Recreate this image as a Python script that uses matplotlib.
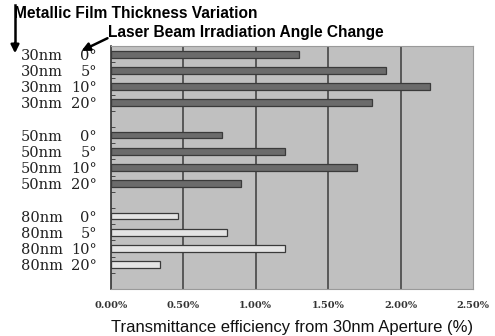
import matplotlib
matplotlib.use("Agg")
import matplotlib.pyplot as plt
from matplotlib.transforms import blended_transform_factory

# data
thickness = ["30nm", "50nm", "80nm"]
angles = ["0°", "5°", "10°", "20°"]
eff_30nm = [1.30, 1.90, 2.20, 1.80]
eff_50nm = [0.77, 1.20, 1.70, 0.90]
eff_80nm = [0.46, 0.80, 1.20, 0.34]
xticks = [0.0, 0.5, 1.0, 1.5, 2.0, 2.5]
xtick_labels = ["0.00%", "0.50%", "1.00%", "1.50%", "2.00%", "2.50%"]

series = [eff_30nm, eff_50nm, eff_80nm]
bar_colors = ["#6b6b6b", "#6b6b6b", "#e4e4e4"]

fig = plt.figure(figsize=(4.95, 3.36), dpi=100)
ax = fig.add_axes([0.2242, 0.1399, 0.7313, 0.7232])
ax.set_facecolor("#c0c0c0")

serif = "DejaVu Serif"
sans = "Liberation Sans"

ypos, ylabels_t, ylabels_a = [], [], []
slot = 0
for g, vals in enumerate(series):
    pos = list(range(slot, slot + len(vals)))
    ax.barh(pos, vals, height=0.42, color=bar_colors[g], edgecolor="#3a3a3a",
            linewidth=0.9, zorder=3)
    ypos += pos
    ylabels_t += [thickness[g]] * len(vals)
    ylabels_a += angles
    slot += len(vals) + 1

ax.set_xlim(0, 2.5)
ax.set_ylim(slot - 0.5, -0.5)

# vertical grid
for x in xticks[1:-1]:
    ax.axvline(x, color="#3c3c3c", lw=1.1, zorder=2)

ax.set_xticks(xticks)
ax.set_xticklabels(xtick_labels, fontfamily=serif, fontsize=7, fontweight="bold",
                   color="#333333")
ax.tick_params(axis="x", length=0, pad=9)

ax.set_yticks(ypos)
ax.set_yticklabels(ylabels_a, fontfamily=serif, fontsize=10.5, color="#222222")
ax.tick_params(axis="y", length=0, pad=10)
ax.set_yticks([p + 0.5 for p in range(slot - 1)], minor=True)
ax.tick_params(axis="y", which="minor", direction="in", length=3, color="#333333")

trans = blended_transform_factory(fig.transFigure, ax.transData)
for p, t in zip(ypos, ylabels_t):
    ax.text(21 / 495, p, t, transform=trans, ha="left", va="center_baseline",
            fontfamily=serif, fontsize=10.5, color="#222222")

for side in ["top", "right", "bottom"]:
    ax.spines[side].set_color("#9a9a9a")
ax.spines["left"].set_color("#333333")
ax.spines["left"].set_linewidth(1.2)

ax.set_xlabel("Transmittance efficiency from 30nm Aperture (%)", fontfamily=sans,
              fontsize=12, color="#111111", labelpad=7)

# header annotations
fig.text(14 / 495, 1 - 14 / 336, "Metallic Film Thickness Variation", fontfamily=sans,
         fontsize=11.2, fontweight="bold", ha="left", va="center")
fig.text(108 / 495, 1 - 33 / 336, "Laser Beam Irradiation Angle Change", fontfamily=sans,
         fontsize=11.2, fontweight="bold", ha="left", va="center")
fig.add_artist(plt.Line2D([15 / 495, 15 / 495], [1 - 5 / 336, 1 - 46 / 336],
                          color="black", lw=1.8))
ax.annotate("", xy=(15 / 495, 1 - 56 / 336), xytext=(15 / 495, 1 - 40 / 336),
            xycoords="figure fraction", textcoords="figure fraction",
            arrowprops=dict(arrowstyle="-|>", color="black", lw=1.8, mutation_scale=12),
            annotation_clip=False)
ax.annotate("", xy=(79 / 495, 1 - 52 / 336), xytext=(110 / 495, 1 - 37 / 336),
            xycoords="figure fraction", textcoords="figure fraction",
            arrowprops=dict(arrowstyle="-|>", color="black", lw=1.8, mutation_scale=12),
            annotation_clip=False)

fig.savefig("out.png", dpi=100)
